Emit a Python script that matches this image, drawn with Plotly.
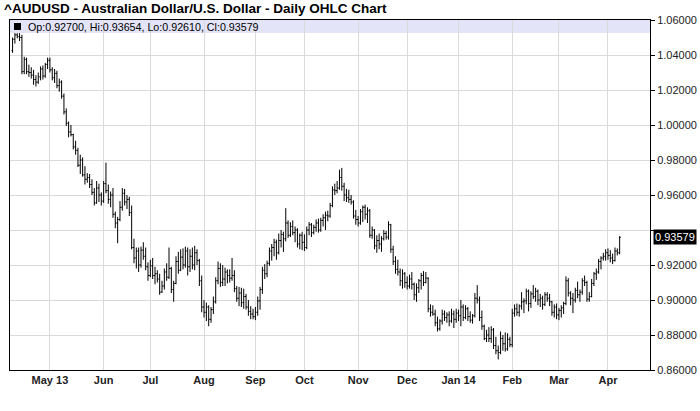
import pandas as pd
import plotly.graph_objects as go

# daily OHLC, Apr 9 2013 .. Apr 8 2014 (one row per weekday, grouped by month)
open_ = [
    1.0425, 1.0490, 1.0515, 1.0505, 1.0500, 1.0305, 1.0375, 1.0305, 1.0300, 1.0285, 1.0260, 1.0245, 1.0275, 1.0320, 1.0280, 1.0345,
    1.0370, 1.0315, 1.0270, 1.0295, 1.0225, 1.0245, 1.0165, 1.0075, 1.0010, 0.9960, 0.9945, 0.9875, 0.9855, 0.9770, 0.9800, 0.9715, 0.9690, 0.9700, 0.9660, 0.9615, 0.9555, 0.9640, 0.9600,
    0.9565, 0.9665, 0.9625, 0.9575, 0.9600, 0.9490, 0.9440, 0.9460, 0.9530, 0.9610, 0.9560, 0.9575, 0.9500, 0.9300, 0.9240, 0.9280, 0.9200, 0.9285, 0.9250, 0.9190,
    0.9140, 0.9195, 0.9140, 0.9150, 0.9120, 0.9045, 0.9080, 0.9160, 0.9130, 0.9180, 0.9060, 0.9095, 0.9220, 0.9170, 0.9245, 0.9200, 0.9280, 0.9190, 0.9250, 0.9200, 0.9270, 0.9225, 0.9110,
    0.8960, 0.8930, 0.8960, 0.8890, 0.8945, 0.8990, 0.9110, 0.9180, 0.9100, 0.9120, 0.9160, 0.9140, 0.9125, 0.9140, 0.9065, 0.9010, 0.9040, 0.8985, 0.9020, 0.8960, 0.8935, 0.8920,
    0.8905, 0.8930, 0.8995, 0.9060, 0.9170, 0.9150, 0.9210, 0.9280, 0.9300, 0.9330, 0.9270, 0.9340, 0.9375, 0.9350, 0.9440, 0.9370, 0.9420, 0.9385, 0.9400, 0.9320, 0.9370,
    0.9330, 0.9300, 0.9400, 0.9430, 0.9385, 0.9415, 0.9440, 0.9400, 0.9455, 0.9470, 0.9485, 0.9480, 0.9540, 0.9630, 0.9625, 0.9640, 0.9700, 0.9650, 0.9600, 0.9585, 0.9575, 0.9560, 0.9480,
    0.9460, 0.9440, 0.9505, 0.9530, 0.9490, 0.9510, 0.9370, 0.9400, 0.9310, 0.9340, 0.9320, 0.9350, 0.9380, 0.9360, 0.9430, 0.9290, 0.9220, 0.9175, 0.9160, 0.9110, 0.9150,
    0.9100, 0.9080, 0.9120, 0.9090, 0.9030, 0.9070, 0.9110, 0.9140, 0.9100, 0.9125, 0.8950, 0.8930, 0.8920, 0.8870, 0.8835, 0.8880, 0.8920, 0.8900, 0.8915, 0.8880, 0.8920, 0.8890,
    0.8925, 0.8910, 0.8960, 0.8900, 0.8950, 0.8905, 0.8885, 0.8910, 0.9010, 0.9000, 0.8900, 0.8850, 0.8780, 0.8800, 0.8780, 0.8830, 0.8740, 0.8710, 0.8700, 0.8780, 0.8750, 0.8720, 0.8775,
    0.8745, 0.8925, 0.8950, 0.8930, 0.8965, 0.8990, 0.8995, 0.9050, 0.8980, 0.9035, 0.9020, 0.9050, 0.9000, 0.9010, 0.8975, 0.9030, 0.9010, 0.8990, 0.8930, 0.8960,
    0.8915, 0.8940, 0.8955, 0.8980, 0.9110, 0.9040, 0.9010, 0.9000, 0.9055, 0.9030, 0.9045, 0.9110, 0.9100, 0.9005, 0.9020, 0.9095, 0.9150, 0.9160, 0.9220, 0.9240, 0.9250,
    0.9270, 0.9255, 0.9240, 0.9225, 0.9280, 0.92700,
]
high = [
    1.0500, 1.0525, 1.0525, 1.0525, 1.0515, 1.0390, 1.0385, 1.0345, 1.0330, 1.0315, 1.0285, 1.0300, 1.0335, 1.0340, 1.0355, 1.0385,
    1.0385, 1.0330, 1.0320, 1.0310, 1.0265, 1.0255, 1.0180, 1.0095, 1.0020, 1.0000, 0.9950, 0.9910, 0.9870, 0.9830, 0.9815, 0.9765, 0.9725, 0.9720, 0.9690, 0.9640, 0.9680, 0.9665, 0.9615,
    0.9680, 0.9785, 0.9660, 0.9620, 0.9640, 0.9505, 0.9475, 0.9565, 0.9640, 0.9635, 0.9600, 0.9590, 0.9540, 0.9350, 0.9300, 0.9300, 0.9305, 0.9330, 0.9300, 0.9215,
    0.9230, 0.9240, 0.9190, 0.9170, 0.9150, 0.9110, 0.9180, 0.9210, 0.9300, 0.9190, 0.9110, 0.9250, 0.9275, 0.9290, 0.9295, 0.9305, 0.9300, 0.9290, 0.9300, 0.9310, 0.9290, 0.9235, 0.9140,
    0.9000, 0.8985, 0.8970, 0.8960, 0.9020, 0.9130, 0.9220, 0.9210, 0.9200, 0.9185, 0.9175, 0.9175, 0.9240, 0.9170, 0.9080, 0.9075, 0.9070, 0.9065, 0.9035, 0.9000, 0.8965, 0.8950,
    0.8960, 0.9020, 0.9075, 0.9190, 0.9205, 0.9225, 0.9300, 0.9320, 0.9350, 0.9345, 0.9380, 0.9400, 0.9390, 0.9525, 0.9455, 0.9445, 0.9455, 0.9420, 0.9410, 0.9380, 0.9390,
    0.9375, 0.9420, 0.9445, 0.9440, 0.9430, 0.9460, 0.9465, 0.9470, 0.9490, 0.9505, 0.9510, 0.9555, 0.9650, 0.9665, 0.9680, 0.9745, 0.9755, 0.9670, 0.9635, 0.9630, 0.9600, 0.9570, 0.9515,
    0.9480, 0.9520, 0.9540, 0.9545, 0.9530, 0.9520, 0.9420, 0.9405, 0.9370, 0.9380, 0.9365, 0.9400, 0.9395, 0.9450, 0.9435, 0.9310, 0.9250, 0.9230, 0.9180, 0.9175, 0.9160,
    0.9135, 0.9145, 0.9160, 0.9100, 0.9095, 0.9120, 0.9155, 0.9165, 0.9160, 0.9130, 0.8975, 0.8970, 0.8945, 0.8905, 0.8890, 0.8945, 0.8940, 0.8930, 0.8935, 0.8950, 0.8940, 0.8950,
    0.8945, 0.9000, 0.8975, 0.8970, 0.8960, 0.8935, 0.8920, 0.9040, 0.9085, 0.9020, 0.8940, 0.8860, 0.8830, 0.8845, 0.8850, 0.8840, 0.8790, 0.8740, 0.8820, 0.8800, 0.8815, 0.8810, 0.8790,
    0.8950, 0.8975, 0.8980, 0.8975, 0.9045, 0.9010, 0.9065, 0.9060, 0.9050, 0.9085, 0.9070, 0.9060, 0.9035, 0.9025, 0.9045, 0.9045, 0.9035, 0.8995, 0.8975, 0.8980,
    0.8955, 0.8970, 0.8990, 0.9135, 0.9125, 0.9050, 0.9040, 0.9070, 0.9105, 0.9060, 0.9125, 0.9140, 0.9110, 0.9045, 0.9120, 0.9160, 0.9180, 0.9235, 0.9250, 0.9270, 0.9290,
    0.9295, 0.9285, 0.9265, 0.9300, 0.9295, 0.93654,
]
low = [
    1.0412, 1.0465, 1.0495, 1.0480, 1.0290, 1.0290, 1.0290, 1.0275, 1.0265, 1.0230, 1.0220, 1.0235, 1.0255, 1.0260, 1.0270, 1.0320,
    1.0300, 1.0255, 1.0240, 1.0210, 1.0190, 1.0150, 1.0060, 0.9995, 0.9930, 0.9935, 0.9860, 0.9830, 0.9760, 0.9720, 0.9705, 0.9660, 0.9670, 0.9640, 0.9600, 0.9540, 0.9550, 0.9560, 0.9540,
    0.9555, 0.9610, 0.9550, 0.9530, 0.9470, 0.9410, 0.9325, 0.9450, 0.9510, 0.9540, 0.9520, 0.9480, 0.9290, 0.9210, 0.9180, 0.9160, 0.9185, 0.9230, 0.9170, 0.9110,
    0.9130, 0.9120, 0.9090, 0.9100, 0.9030, 0.9040, 0.9060, 0.9110, 0.9120, 0.9040, 0.8990, 0.9090, 0.9150, 0.9165, 0.9175, 0.9185, 0.9140, 0.9160, 0.9175, 0.9170, 0.9200, 0.9080, 0.8930,
    0.8900, 0.8880, 0.8850, 0.8870, 0.8920, 0.8980, 0.9090, 0.9075, 0.9080, 0.9080, 0.9095, 0.9100, 0.9110, 0.9045, 0.8990, 0.8965, 0.8960, 0.8950, 0.8945, 0.8910, 0.8890, 0.8890,
    0.8885, 0.8910, 0.8945, 0.9035, 0.9120, 0.9130, 0.9195, 0.9225, 0.9250, 0.9230, 0.9260, 0.9300, 0.9275, 0.9335, 0.9355, 0.9360, 0.9370, 0.9330, 0.9300, 0.9290, 0.9285,
    0.9280, 0.9290, 0.9370, 0.9360, 0.9375, 0.9390, 0.9385, 0.9390, 0.9420, 0.9400, 0.9450, 0.9470, 0.9530, 0.9600, 0.9610, 0.9630, 0.9625, 0.9565, 0.9560, 0.9555, 0.9545, 0.9465, 0.9430,
    0.9420, 0.9430, 0.9445, 0.9460, 0.9440, 0.9355, 0.9350, 0.9290, 0.9270, 0.9290, 0.9275, 0.9340, 0.9345, 0.9345, 0.9270, 0.9200, 0.9150, 0.9140, 0.9080, 0.9065, 0.9070,
    0.9060, 0.9065, 0.9060, 0.9000, 0.8990, 0.9040, 0.9060, 0.9080, 0.9095, 0.8930, 0.8905, 0.8910, 0.8850, 0.8820, 0.8825, 0.8860, 0.8880, 0.8870, 0.8850, 0.8870, 0.8840, 0.8870,
    0.8880, 0.8850, 0.8880, 0.8890, 0.8880, 0.8870, 0.8865, 0.8900, 0.8980, 0.8880, 0.8830, 0.8770, 0.8760, 0.8760, 0.8755, 0.8720, 0.8690, 0.8660, 0.8690, 0.8710, 0.8705, 0.8710, 0.8730,
    0.8730, 0.8905, 0.8910, 0.8905, 0.8945, 0.8925, 0.8975, 0.8935, 0.8955, 0.9005, 0.8990, 0.8970, 0.8960, 0.8945, 0.8965, 0.8990, 0.8965, 0.8910, 0.8900, 0.8890,
    0.8885, 0.8900, 0.8920, 0.8970, 0.9020, 0.8970, 0.8925, 0.8985, 0.9010, 0.8990, 0.9030, 0.9080, 0.8990, 0.8990, 0.9015, 0.9080, 0.9115, 0.9150, 0.9175, 0.9225, 0.9225,
    0.9230, 0.9215, 0.9205, 0.9220, 0.9255, 0.92610,
]
close = [
    1.0490, 1.0515, 1.0505, 1.0500, 1.0305, 1.0375, 1.0305, 1.0300, 1.0285, 1.0260, 1.0245, 1.0275, 1.0320, 1.0280, 1.0345, 1.0370,
    1.0315, 1.0270, 1.0295, 1.0225, 1.0245, 1.0165, 1.0075, 1.0010, 0.9960, 0.9945, 0.9875, 0.9855, 0.9770, 0.9800, 0.9715, 0.9690, 0.9700, 0.9660, 0.9615, 0.9555, 0.9640, 0.9600, 0.9565,
    0.9665, 0.9625, 0.9575, 0.9600, 0.9490, 0.9440, 0.9460, 0.9530, 0.9610, 0.9560, 0.9575, 0.9500, 0.9300, 0.9240, 0.9280, 0.9200, 0.9285, 0.9250, 0.9190, 0.9140,
    0.9195, 0.9140, 0.9150, 0.9120, 0.9045, 0.9080, 0.9160, 0.9130, 0.9180, 0.9060, 0.9095, 0.9220, 0.9170, 0.9245, 0.9200, 0.9280, 0.9190, 0.9250, 0.9200, 0.9270, 0.9225, 0.9110, 0.8960,
    0.8930, 0.8960, 0.8890, 0.8945, 0.8990, 0.9110, 0.9180, 0.9100, 0.9120, 0.9160, 0.9140, 0.9125, 0.9140, 0.9065, 0.9010, 0.9040, 0.8985, 0.9020, 0.8960, 0.8935, 0.8920, 0.8905,
    0.8930, 0.8995, 0.9060, 0.9170, 0.9150, 0.9210, 0.9280, 0.9300, 0.9330, 0.9270, 0.9340, 0.9375, 0.9350, 0.9440, 0.9370, 0.9420, 0.9385, 0.9400, 0.9320, 0.9370, 0.9330,
    0.9300, 0.9400, 0.9430, 0.9385, 0.9415, 0.9440, 0.9400, 0.9455, 0.9470, 0.9485, 0.9480, 0.9540, 0.9630, 0.9625, 0.9640, 0.9700, 0.9650, 0.9600, 0.9585, 0.9575, 0.9560, 0.9480, 0.9460,
    0.9440, 0.9505, 0.9530, 0.9490, 0.9510, 0.9370, 0.9400, 0.9310, 0.9340, 0.9320, 0.9350, 0.9380, 0.9360, 0.9430, 0.9290, 0.9220, 0.9175, 0.9160, 0.9110, 0.9150, 0.9100,
    0.9080, 0.9120, 0.9090, 0.9030, 0.9070, 0.9110, 0.9140, 0.9100, 0.9125, 0.8950, 0.8930, 0.8920, 0.8870, 0.8835, 0.8880, 0.8920, 0.8900, 0.8915, 0.8880, 0.8920, 0.8890, 0.8925,
    0.8910, 0.8960, 0.8900, 0.8950, 0.8905, 0.8885, 0.8910, 0.9010, 0.9000, 0.8900, 0.8850, 0.8780, 0.8800, 0.8780, 0.8830, 0.8740, 0.8710, 0.8700, 0.8780, 0.8750, 0.8720, 0.8775, 0.8745,
    0.8925, 0.8950, 0.8930, 0.8965, 0.8990, 0.8995, 0.9050, 0.8980, 0.9035, 0.9020, 0.9050, 0.9000, 0.9010, 0.8975, 0.9030, 0.9010, 0.8990, 0.8930, 0.8960, 0.8915,
    0.8940, 0.8955, 0.8980, 0.9110, 0.9040, 0.9010, 0.9000, 0.9055, 0.9030, 0.9045, 0.9110, 0.9100, 0.9005, 0.9020, 0.9095, 0.9150, 0.9160, 0.9220, 0.9240, 0.9250, 0.9270,
    0.9255, 0.9240, 0.9225, 0.9280, 0.9270, 0.93579,
]

month_labels = ["May 13", "Jun", "Jul", "Aug", "Sep", "Oct", "Nov", "Dec", "Jan 14", "Feb", "Mar", "Apr"]
y_ticks = [0.86, 0.88, 0.90, 0.92, 0.94, 0.96, 0.98, 1.00, 1.02, 1.04, 1.06]
last_price = 0.93579

dates = pd.bdate_range(start="2013-04-09", periods=len(close))
idx = list(range(len(close)))
month_starts = [i for i in idx[1:] if dates[i].month != dates[i - 1].month]

FONT = "Liberation Sans, Arial, sans-serif"
black_line = dict(line=dict(color="black", width=1))

fig = go.Figure(
    go.Ohlc(
        x=idx,
        open=open_,
        high=high,
        low=low,
        close=close,
        increasing=black_line,
        decreasing=black_line,
        tickwidth=0.45,
        hoverinfo="skip",
        showlegend=False,
    )
)

fig.update_layout(
    width=700,
    height=411,
    margin=dict(l=10, r=50, t=20, b=41),
    paper_bgcolor="white",
    plot_bgcolor="white",
    showlegend=False,
    xaxis=dict(
        range=[-1.1, 273.0],
        tickmode="array",
        tickvals=month_starts,
        ticktext=month_labels[: len(month_starts)],
        showgrid=True,
        gridcolor="#DADADA",
        gridwidth=1,
        zeroline=False,
        showline=True,
        linecolor="black",
        linewidth=1,
        mirror=True,
        ticks="",
        automargin=False,
        tickfont=dict(family=FONT, size=11, color="#222", weight="bold"),
        rangeslider=dict(visible=False),
    ),
    yaxis=dict(
        side="right",
        range=[0.86, 1.06],
        tickmode="array",
        tickvals=y_ticks,
        ticktext=["" if abs(v - 0.94) < 1e-9 else f"{v:.5f}" for v in y_ticks],
        showgrid=True,
        gridcolor="#DADADA",
        gridwidth=1,
        zeroline=False,
        showline=True,
        linecolor="black",
        linewidth=1,
        mirror=True,
        ticks="outside",
        ticklen=4,
        tickcolor="black",
        automargin=False,
        tickfont=dict(family=FONT, size=11, color="#222"),
    ),
)

# lavender header strip + black square marker
fig.add_shape(type="rect", xref="paper", yref="paper", x0=0, x1=1, y0=1 - 13 / 350, y1=1,
              fillcolor="#E4E4F9", line=dict(width=0), layer="below")
fig.add_shape(type="rect", xref="paper", yref="paper",
              xsizemode="pixel", xanchor=0, x0=4, x1=11,
              ysizemode="pixel", yanchor=1, y0=-10, y1=-3,
              fillcolor="black", line=dict(width=0), layer="above")

last = len(close) - 1
fig.add_annotation(
    text=f"Op:{open_[last]:.5f}, Hi:{high[last]:.5f}, Lo:{low[last]:.5f}, Cl:{close[last]:.5f}",
    xref="paper", yref="paper", x=0, y=1, xanchor="left", yanchor="middle",
    xshift=16, yshift=-7, showarrow=False,
    font=dict(family=FONT, size=10.7, color="black"),
)
fig.add_annotation(
    text="^AUDUSD - Australian Dollar/U.S. Dollar - Daily OHLC Chart",
    xref="paper", yref="paper", x=0, y=1, xanchor="left", yanchor="middle",
    xshift=-8, yshift=12, showarrow=False,
    font=dict(family=FONT, size=13.5, color="black", weight="bold"),
)
fig.add_annotation(
    text=f"{last_price:.5f}",
    xref="paper", yref="y", x=1, y=last_price, xanchor="left", yanchor="middle",
    xshift=3, showarrow=False, bgcolor="black", borderpad=1,
    font=dict(family=FONT, size=11, color="white"),
)

# drop the default page margin so the figure sits at the window's top-left corner
fig.write_html(
    "out.html",
    config={"displayModeBar": False},
    post_script="document.body.style.margin='0';",
)
